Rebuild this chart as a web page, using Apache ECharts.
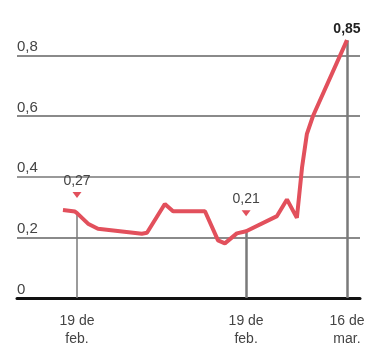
<!DOCTYPE html>
<html>
<head>
<meta charset="utf-8">
<script src="https://cdn.jsdelivr.net/npm/echarts@6/dist/echarts.min.js"></script>
<style>
  html, body { margin: 0; padding: 0; background: #fff; }
  #main { width: 368px; height: 348px; }
</style>
</head>
<body>
<div id="main"></div>
<script>
// posicion en el eje (0-100) y valor
var xs = [13.4, 16.9, 17.5, 20.7, 23.6, 36.4, 37.9, 43.1, 45.5, 54.8, 58.6, 60.6, 64.1, 66.8, 75.8, 78.7, 81.6, 83.1, 84.5, 86.3, 96.2];
var ys = [0.29, 0.285, 0.28, 0.245, 0.228, 0.212, 0.215, 0.31, 0.286, 0.286, 0.19, 0.18, 0.213, 0.22, 0.27, 0.325, 0.264, 0.43, 0.54, 0.60, 0.85];

var tickPos = [17.5, 66.8, 96.2];
var tickLabels = ['19 de\nfeb.', '19 de\nfeb.', '16 de\nmar.'];

// puntos destacados: [x, y, texto]
var marks = [[17.5, 0.28, '0,27'], [66.8, 0.22, '0,21'], [96.2, 0.85, '0,85']];

var myChart = echarts.init(document.getElementById('main'));

var lineData = xs.map(function (x, i) { return [x, ys[i]]; });

var font = 'Liberation Sans';

option = {
    animation: false,
    grid: { left: 17, right: 8, top: 25, bottom: 44 },
    xAxis: {
        type: 'value',
        min: 0,
        max: 100,
        axisLine: { show: true, onZero: true, lineStyle: { color: '#111', width: 3 } },
        axisTick: { show: false },
        splitLine: { show: false },
        axisLabel: {
            customValues: tickPos,
            margin: 14,
            fontSize: 14,
            lineHeight: 18,
            color: '#444',
            fontFamily: font,
            formatter: function (v) {
                var i = tickPos.indexOf(v);
                return i >= 0 ? tickLabels[i] : '';
            }
        }
    },
    yAxis: {
        type: 'value',
        min: 0,
        max: 0.9,
        interval: 0.2,
        axisLine: { show: false },
        axisTick: { show: false },
        axisLabel: {
            inside: true,
            margin: 0,
            verticalAlign: 'bottom',
            padding: [0, 0, 1, 0],
            showMaxLabel: false,
            fontSize: 15,
            color: '#444',
            fontFamily: font,
            formatter: function (v) { return String(Math.round(v * 10) / 10).replace('.', ','); }
        },
        splitLine: {
            show: true,
            showMinLine: false,
            showMaxLine: false,
            lineStyle: { color: ['#8a8a8a', '#999', '#8a8a8a', '#8a8a8a', '#8a8a8a'], width: 2 }
        }
    },
    series: [
        {
            type: 'line',
            data: lineData,
            showSymbol: false,
            z: 5,
            lineStyle: { color: '#e2505c', width: 4 },
            markLine: {
                silent: true,
                symbol: 'none',
                label: { show: false },
                z: 1,
                data: marks.map(function (m, i) {
                    return [
                        { coord: [m[0], 0], lineStyle: { color: '#7a7a7a', width: i === 0 ? 1.5 : 2.5, type: 'solid' } },
                        { coord: [m[0], m[1]] }
                    ];
                })
            },
            markPoint: {
                silent: true,
                data: marks.map(function (m, i) {
                    var last = i === marks.length - 1;
                    return {
                        coord: [m[0], m[1]],
                        symbol: 'triangle',
                        symbolRotate: 180,
                        symbolSize: last ? 0 : [9, 6],
                        symbolOffset: [0, last ? -4 : -18],
                        itemStyle: { color: '#e2505c' },
                        label: {
                            show: true,
                            position: 'top',
                            distance: last ? 0 : 4,
                            formatter: m[2],
                            fontSize: 14,
                            fontFamily: font,
                            fontWeight: last ? 'bold' : 'normal',
                            color: last ? '#222' : '#444'
                        }
                    };
                })
            }
        }
    ]
};

myChart.setOption(option);
</script>
</body>
</html>
